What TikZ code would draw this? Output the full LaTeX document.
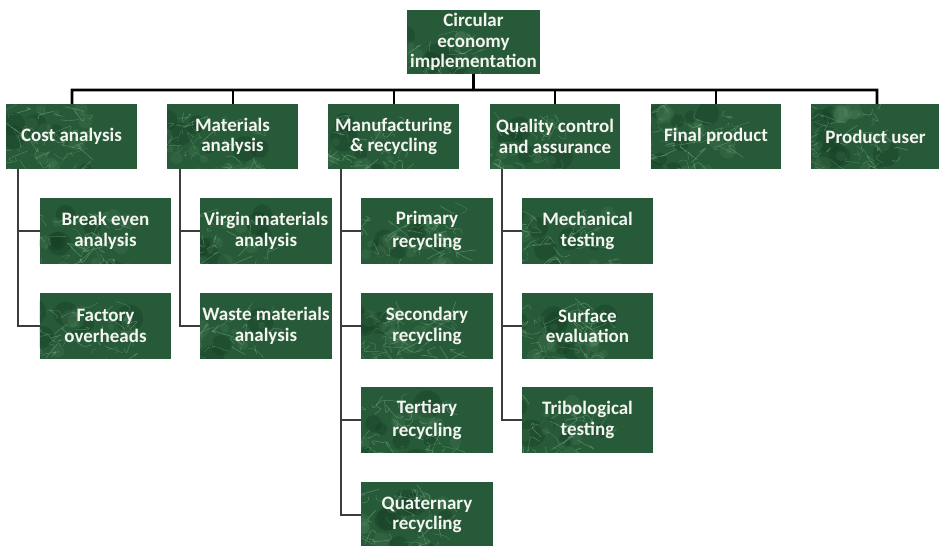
\documentclass[tikz,border=0pt]{standalone}
\usepackage{fontspec}
\setmainfont{Carlito}
\usetikzlibrary{calc}
\definecolor{marbbase}{HTML}{265A38}
\definecolor{marbdeep}{HTML}{143A22}
\definecolor{marbvein}{HTML}{8CC298}
\definecolor{boxtext}{HTML}{F4F4F0}
\definecolor{linkgray}{HTML}{3C3C3C}
\tikzset{
  marble/.style={
    fill=marbbase, draw=none,
    path picture={
      \begin{scope}[shift={(path picture bounding box.center)}]
        % dark clouds
        \foreach \k in {1,...,10}{
          \fill[marbdeep, opacity=0.35] (66*rand,33*rand) circle ({6+8*rnd});
        }
        % light mottling
        \foreach \k in {1,...,16}{
          \fill[marbvein, opacity=0.10] (66*rand,33*rand) circle ({3+6*rnd});
        }
        % short fine veins
        \foreach \k in {1,...,70}{
          \pgfmathsetmacro{\ax}{70*rand}
          \pgfmathsetmacro{\ay}{36*rand}
          \draw[marbvein, opacity=0.4, line width={0.25+0.5*rnd}]
            (\ax,\ay) .. controls ({\ax+10*rand},{\ay+8*rand}) .. ({\ax+18*rand},{\ay+12*rand});
        }
      \end{scope}
    }},
  box/.style={marble, minimum width=131, minimum height=65, inner sep=1pt,
    align=center, text=boxtext,
    font=\fontsize{19bp}{20.5bp}\selectfont\bfseries},
  subbox/.style={box, minimum width=132, minimum height=66},
  trunk/.style={line width=2.6bp, draw=black},
  branch/.style={line width=2.6bp, draw=linkgray},
}
\begin{document}
\begin{tikzpicture}[x=1bp, y=-1bp]
\pgfmathsetseed{4217}
\useasboundingbox (0,0) rectangle (939,546);

% root
\node[box, minimum width=133, minimum height=64] (root) at (473.5,42)
  {Circular\\economy\\implementation};

% first level
\node[box] (cost) at (71.5,136.5) {Cost analysis};
\node[box] (mat)  at (232.5,136.5) {Materials\\analysis};
\node[box] (man)  at (393.5,136.5) {Manufacturing\\\& recycling};
\node[box] (qc)   at (555,136.5) {Quality control\\and assurance};
\node[box] (fp)   at (716,136.5) {Final product};
\node[box, minimum width=129] (pu) at (875.5,136.5) {Product user};

% second level
\node[subbox] (be)  at (105.5,231) {Break even\\analysis};
\node[subbox] (fo)  at (105.5,326) {Factory\\overheads};
\node[subbox] (vm)  at (266,231) {Virgin materials\\analysis};
\node[subbox] (wm)  at (266,326) {Waste materials\\analysis};
\node[subbox] (pr)  at (427,231) {Primary\\[3bp]recycling};
\node[subbox] (sr)  at (427,326) {Secondary\\recycling};
\node[subbox] (tr)  at (427,420) {Tertiary\\[3bp]recycling};
\node[subbox] (qr)  at (427,515) {Quaternary\\recycling};
\node[subbox] (mt)  at (587.5,231) {Mechanical\\testing};
\node[subbox] (se)  at (587.5,326) {Surface\\evaluation};
\node[subbox] (tt)  at (587.5,420) {Tribological\\testing};

% top bus
\coordinate (busL) at (72,90);
\coordinate (busR) at (877,90);
\draw[trunk] (root.south) -- (root.south |- busL);
\draw[trunk, line join=miter] ($(cost.north)+(0.5,0)$) -- (busL) -- (busR) -- ($(pu.north)+(1.5,0)$);
\foreach \n/\x in {mat/233, man/394, qc/555, fp/716}{
  \draw[trunk] (\x,90) -- (\n.north -| \x,0);
}

% branch spines
\coordinate (sc) at (18,0);
\coordinate (sm) at (180,0);
\coordinate (sf) at (341,0);
\coordinate (sq) at (502,0);
\foreach \p/\s/\c in {cost/sc/be, cost/sc/fo, mat/sm/vm, mat/sm/wm,
                      man/sf/pr, man/sf/sr, man/sf/tr, man/sf/qr,
                      qc/sq/mt, qc/sq/se, qc/sq/tt}{
  \draw[branch, line join=miter] (\p.south -| \s) |- (\c.west);
}
\end{tikzpicture}
\end{document}
